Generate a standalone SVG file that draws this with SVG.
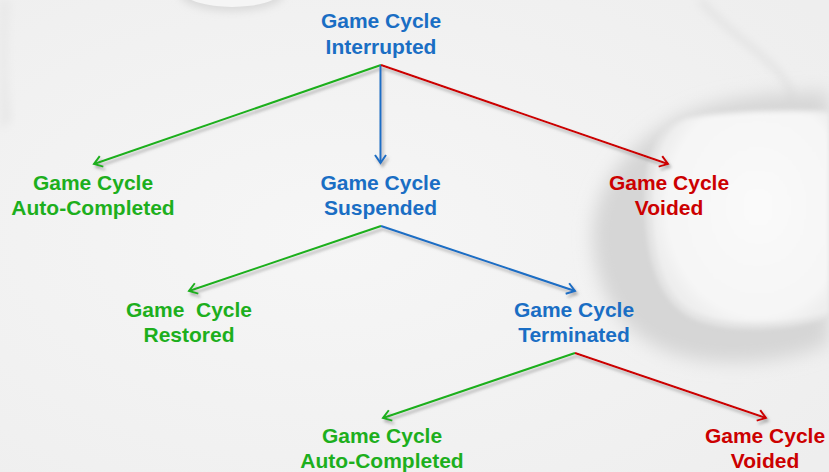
<svg xmlns="http://www.w3.org/2000/svg" width="829" height="472" viewBox="0 0 829 472">
  <defs>
    <style>
      .lbl { font-family: "Liberation Sans", Arial, sans-serif; font-weight: bold; font-size: 21px; text-anchor: middle; white-space: pre; }
      .g { fill: #1daf1d; }
      .b { fill: #1a6ec4; }
      .r { fill: #cc0000; }
      .ln { fill: none; stroke-width: 2; }
      .lg { stroke: #1daf1d; marker-end: url(#ahG); }
      .lb { stroke: #1a6ec4; marker-end: url(#ahB); }
      .lr { stroke: #cc0000; marker-end: url(#ahR); }
    </style>
    <marker id="ahG" markerUnits="userSpaceOnUse" viewBox="-10 -7 12 14" markerWidth="12" markerHeight="14" refX="0" refY="0" orient="auto">
      <path d="M-8,-5.5 L0,0 L-8,5.5" fill="none" stroke="#1daf1d" stroke-width="2"/>
    </marker>
    <marker id="ahB" markerUnits="userSpaceOnUse" viewBox="-10 -7 12 14" markerWidth="12" markerHeight="14" refX="0" refY="0" orient="auto">
      <path d="M-8,-5.5 L0,0 L-8,5.5" fill="none" stroke="#1a6ec4" stroke-width="2"/>
    </marker>
    <marker id="ahR" markerUnits="userSpaceOnUse" viewBox="-10 -7 12 14" markerWidth="12" markerHeight="14" refX="0" refY="0" orient="auto">
      <path d="M-8,-5.5 L0,0 L-8,5.5" fill="none" stroke="#cc0000" stroke-width="2"/>
    </marker>
    <filter id="shadow" x="-10%" y="-10%" width="120%" height="130%">
      <feDropShadow dx="2" dy="3" stdDeviation="1.5" flood-color="#777" flood-opacity="0.55"/>
    </filter>
    <filter id="blur10" x="-30%" y="-30%" width="160%" height="160%">
      <feGaussianBlur stdDeviation="9"/>
    </filter>
    <filter id="blur4" x="-30%" y="-30%" width="160%" height="160%">
      <feGaussianBlur stdDeviation="4"/>
    </filter>
    <filter id="blur2" x="-30%" y="-30%" width="160%" height="160%">
      <feGaussianBlur stdDeviation="2"/>
    </filter>
    <radialGradient id="bg" cx="0.4" cy="0.5" r="0.75">
      <stop offset="0" stop-color="#f6f6f6"/>
      <stop offset="1" stop-color="#eeeeee"/>
    </radialGradient>
    <radialGradient id="knob" cx="0.6" cy="0.45" r="0.6">
      <stop offset="0" stop-color="#fafafa"/>
      <stop offset="0.85" stop-color="#f6f6f6"/>
      <stop offset="1" stop-color="#eeeeee"/>
    </radialGradient>
  </defs>

  <g id="background">
    <rect x="0" y="0" width="829" height="472" fill="url(#bg)"/>
    <path d="M0,0 L10,0 C6,40 6,80 12,120 L0,130 Z" fill="#e8e8e8" filter="url(#blur4)"/>
    <ellipse cx="232" cy="-6" rx="52" ry="17" fill="#d9d9d9" filter="url(#blur4)"/>
    <ellipse cx="232" cy="-8" rx="48" ry="15" fill="#f5f5f5"/>
    <path d="M700,0 C730,35 768,55 786,82 C794,96 792,108 789,114" fill="none" stroke="#e2e2e2" stroke-width="6" filter="url(#blur4)"/>
    <path d="M829,92 C760,92 700,100 660,128 C612,160 586,205 594,255 C604,322 652,360 722,362 C772,364 805,354 829,344 Z" fill="#d6d6d6" filter="url(#blur10)"/>
    <path d="M829,110 C780,108 722,110 684,116 C656,122 645,160 645,200 C645,258 658,298 688,316 C720,334 782,332 829,318 Z" fill="#e4e4e4" filter="url(#blur2)"/>
    <path d="M829,113 C780,111 724,113 688,119 C662,126 652,162 652,200 C652,256 664,294 692,311 C722,327 782,326 829,313 Z" fill="url(#knob)" filter="url(#blur2)"/>
  </g>

  <g id="connectors" filter="url(#shadow)">
    <line class="ln lg" x1="381" y1="65" x2="94" y2="164"/>
    <line class="ln lb" x1="380.5" y1="65" x2="380.5" y2="163"/>
    <line class="ln lr" x1="381" y1="65" x2="668" y2="164"/>
    <line class="ln lg" x1="381" y1="226" x2="189" y2="291"/>
    <line class="ln lb" x1="381" y1="226" x2="575" y2="291"/>
    <line class="ln lg" x1="575" y1="353" x2="383" y2="418"/>
    <line class="ln lr" x1="575" y1="353" x2="766" y2="418"/>
  </g>

  <g id="node-interrupted">
    <text class="lbl b" x="381" y="28">Game Cycle</text>
    <text class="lbl b" x="381" y="53.5">Interrupted</text>
  </g>
  <g id="node-autocompleted-1">
    <text class="lbl g" x="93" y="190">Game Cycle</text>
    <text class="lbl g" x="93" y="215">Auto-Completed</text>
  </g>
  <g id="node-suspended">
    <text class="lbl b" x="380.5" y="190">Game Cycle</text>
    <text class="lbl b" x="380.5" y="215">Suspended</text>
  </g>
  <g id="node-voided-1">
    <text class="lbl r" x="669" y="190">Game Cycle</text>
    <text class="lbl r" x="669" y="215">Voided</text>
  </g>
  <g id="node-restored">
    <text class="lbl g" x="189" y="317">Game  Cycle</text>
    <text class="lbl g" x="189" y="342">Restored</text>
  </g>
  <g id="node-terminated">
    <text class="lbl b" x="574" y="317">Game Cycle</text>
    <text class="lbl b" x="574" y="342">Terminated</text>
  </g>
  <g id="node-autocompleted-2">
    <text class="lbl g" x="382" y="443">Game Cycle</text>
    <text class="lbl g" x="382" y="468">Auto-Completed</text>
  </g>
  <g id="node-voided-2">
    <text class="lbl r" x="765" y="443">Game Cycle</text>
    <text class="lbl r" x="765" y="468">Voided</text>
  </g>
</svg>
